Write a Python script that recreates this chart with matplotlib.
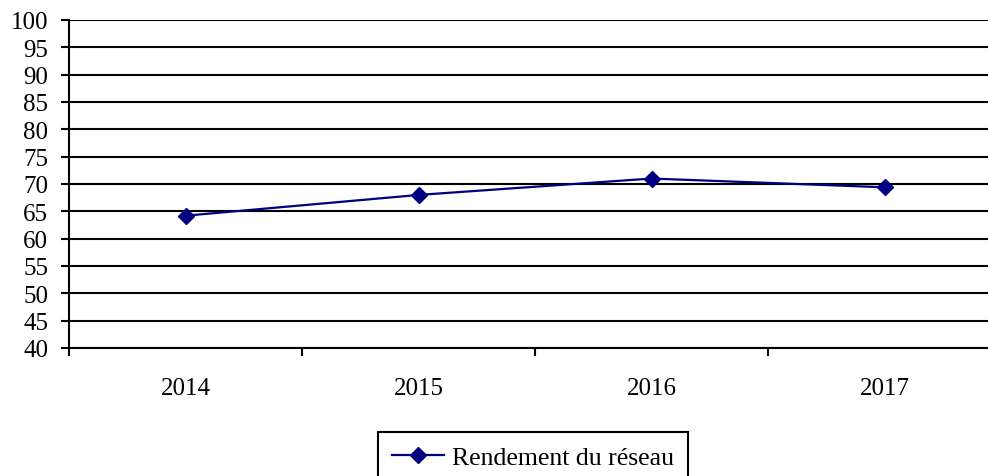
import matplotlib.pyplot as plt
import numpy as np

annees = ['2014', '2015', '2016', '2017']
rendement = [64.2, 68.0, 71.0, 69.4]
yticks = list(range(40, 101, 5))

plt.rcParams['font.family'] = ['Liberation Serif', 'DejaVu Serif']

fig = plt.figure(figsize=(9.88, 4.77), dpi=100)
ax = fig.add_axes([69/988, 128/477, (1001-69)/988, (349-21)/477])

x = np.arange(len(annees))
ax.plot(x, rendement, color='#000080', lw=1.6, marker='D', markersize=8.5,
        label='Rendement du réseau')

ax.set_ylim(40, 100)
ax.set_xlim(-0.5, 3.5)
ax.set_yticks(yticks)
ax.set_yticklabels([str(v) for v in yticks], fontsize=18)
for v in yticks:
    ax.axhline(v, color='black', lw=1.5, zorder=0)

ax.set_xticks(x)
ax.set_xticklabels(annees, fontsize=18)
ax.set_xticks(np.arange(-0.5, 4, 1), minor=True)
ax.tick_params(axis='x', which='major', length=0, pad=21)
ax.tick_params(axis='x', which='minor', length=6, width=1.5, direction='out')
ax.tick_params(axis='y', length=6, width=1.5, direction='out', pad=9)

for s in ['top', 'right']:
    ax.spines[s].set_visible(False)
ax.spines['left'].set_linewidth(1.5)
ax.spines['bottom'].set_linewidth(1.5)

leg = ax.legend(loc='upper center', bbox_to_anchor=(533/988, 1-433/477),
                bbox_transform=fig.transFigure, fontsize=18.5, fancybox=False,
                edgecolor='black', framealpha=1, borderaxespad=0,
                handlelength=2.0, handletextpad=0.3, borderpad=0.55)
leg.get_frame().set_linewidth(1.5)

fig.savefig('out.png', dpi=100)
